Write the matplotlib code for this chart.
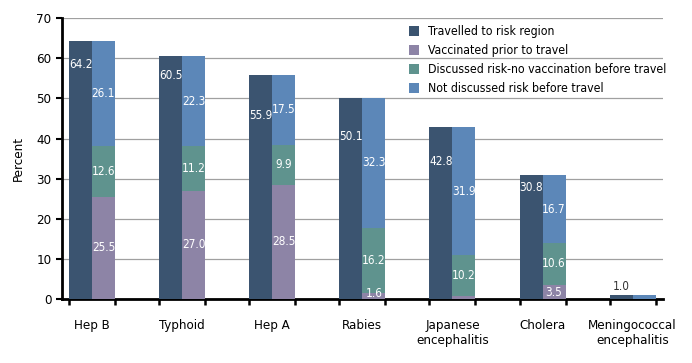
import matplotlib
matplotlib.use("Agg")
import matplotlib.pyplot as plt
import numpy as np

# data
categories = ["Hep B", "Typhoid", "Hep A", "Rabies", "Japanese\nencephalitis",
              "Cholera", "Meningococcal\nencephalitis"]
travelled = [64.2, 60.5, 55.9, 50.1, 42.8, 30.8, 1.0]
vaccinated = [25.5, 27.0, 28.5, 1.6, 0.7, 3.5, 0.0]
discussed = [12.6, 11.2, 9.9, 16.2, 10.2, 10.6, 0.0]
not_discussed = [26.1, 22.3, 17.5, 32.3, 31.9, 16.7, 1.0]
series_names = ["Travelled to risk region", "Vaccinated prior to travel",
                "Discussed risk-no vaccination before travel",
                "Not discussed risk before travel"]

colors = ["#3b5470", "#8d84a6", "#5f938e", "#5c87b8"]

plt.rcParams['font.family'] = ["DejaVu Sans"]
plt.rcParams['font.stretch'] = "condensed"


def main():
    fig = plt.figure(figsize=(6.92, 3.63), dpi=100)
    ax = fig.add_axes([0.0896, 0.176, 0.868, 0.774])

    x = np.arange(len(categories))
    w = 0.255

    ax.bar(x - w / 2, travelled, w, color=colors[0], label=series_names[0], zorder=3)
    vac = np.array(vaccinated)
    dis = np.array(discussed)
    nd = np.array(not_discussed)
    ax.bar(x + w / 2, vac, w, color=colors[1], label=series_names[1], zorder=3)
    ax.bar(x + w / 2, dis, w, bottom=vac, color=colors[2], label=series_names[2], zorder=3)
    ax.bar(x + w / 2, nd, w, bottom=vac + dis, color=colors[3], label=series_names[3], zorder=3)

    # value labels
    lab_frac = [0.91, 0.92, 0.82, 0.81, 0.80, 0.90]
    for i, v in enumerate(travelled):
        if v < 5:
            ax.text(x[i] - w / 2, v + 0.6, f"{v:.1f}", ha="center", va="bottom",
                    color="#333333", fontsize=8.5, zorder=4)
        else:
            ax.text(x[i] - w / 2, v * lab_frac[i], f"{v:.1f}", ha="center",
                    va="center", color="white", fontsize=8.5, zorder=4)

    for i in range(len(categories)):
        segs = [(vac[i], 0.0), (dis[i], vac[i]), (nd[i], vac[i] + dis[i])]
        if travelled[i] < 5:
            continue
        for val, base in segs:
            if val < 1.0:
                continue
            y = max(base + val / 2, base + 1.5) if val < 3 else base + val / 2
            ax.text(x[i] + w / 2, y, f"{val:.1f}", ha="center", va="center",
                    color="white", fontsize=8.5, zorder=4)

    ax.set_ylim(0, 70)
    ax.set_xlim(-0.333, 6.333)
    ax.set_yticks(np.arange(0, 71, 10))
    ax.yaxis.grid(True, color="#a0a0a0", linewidth=0.9, zorder=0)
    ax.set_axisbelow(True)

    ax.set_xticks(x)
    ax.set_xticklabels(categories, fontsize=9.5)
    ax.tick_params(axis="x", length=0, pad=14)
    # small ticks at bar edges
    edges = np.concatenate([x - w, x, x + w])
    ax.set_xticks(edges, minor=True)
    ax.tick_params(axis="x", which="minor", length=4.5, width=1.8, direction="out")
    ax.tick_params(axis="y", labelsize=9.5, length=4, width=1.5)

    for s in ["top", "right"]:
        ax.spines[s].set_visible(False)
    for s in ["left", "bottom"]:
        ax.spines[s].set_linewidth(2)
        ax.spines[s].set_color("black")

    ax.set_ylabel("Percent", fontsize=9.5, labelpad=8)

    ax.legend(loc="upper left", bbox_to_anchor=(0.559, 1.015), frameon=False,
              fontsize=8.8, handlelength=0.85, handleheight=0.85,
              handletextpad=0.7, labelspacing=0.5)

    fig.savefig("out.png", dpi=100)


main()
